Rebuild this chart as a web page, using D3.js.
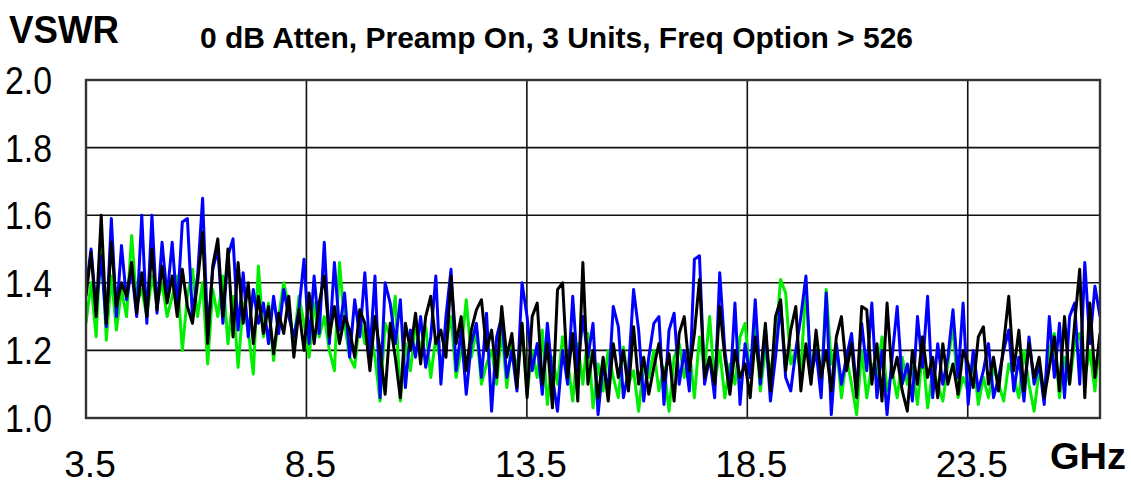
<!DOCTYPE html>
<html>
<head>
<meta charset="utf-8">
<script src="https://cdn.jsdelivr.net/npm/d3@7"></script>
<style>
  body { margin: 0; background: #fff; }
  text { font-family: "Liberation Sans", Arial, sans-serif; fill: #000; }
</style>
</head>
<body>
<div id="chart"></div>
<script>
var width = 1131;
var height = 485;

// sweep: 3.5 GHz start, one reading every 0.115 GHz
var freqStart = 3.5;
var freqStep = 0.115;

var xTicks = [3.5, 8.5, 13.5, 18.5, 23.5];
var yTicks = [1.0, 1.2, 1.4, 1.6, 1.8, 2.0];

var titleText = "0 dB Atten, Preamp On, 3 Units, Freq Option > 526";

var unitGreen = [
  1.28,1.40,1.24,1.55,1.23,1.42,1.26,1.38,1.30,1.54,1.34,1.38,1.30,1.42,1.34,1.40,1.30,1.36,1.42,1.20,
  1.36,1.44,1.30,1.40,1.16,1.38,1.30,1.42,1.22,1.36,1.15,1.34,1.26,1.13,1.45,1.24,1.34,1.17,1.30,1.40,
  1.33,1.22,1.36,1.28,1.18,1.34,1.24,1.30,1.20,1.14,1.46,1.28,1.18,1.15,1.30,1.22,1.26,1.18,1.05,1.28,
  1.24,1.36,1.05,1.22,1.14,1.28,1.20,1.27,1.12,1.24,1.16,1.22,1.30,1.12,1.20,1.35,1.18,1.26,1.10,1.16,
  1.20,1.10,1.26,1.09,1.22,1.14,1.28,1.07,1.20,1.12,1.26,1.04,1.18,1.10,1.24,1.17,1.05,1.22,1.10,1.25,
  1.03,1.16,1.08,1.20,1.12,1.06,1.21,1.10,1.14,1.02,1.16,1.12,1.20,1.08,1.15,1.02,1.18,1.22,1.12,1.20,
  1.06,1.24,1.14,1.30,1.10,1.20,1.06,1.16,1.10,1.24,1.28,1.12,1.28,1.08,1.20,1.14,1.22,1.41,1.37,1.16,
  1.20,1.14,1.39,1.12,1.24,1.08,1.38,1.16,1.22,1.06,1.18,1.10,1.01,1.20,1.06,1.16,1.12,1.24,1.08,1.14,
  1.06,1.18,1.10,1.15,1.04,1.20,1.03,1.14,1.10,1.05,1.16,1.28,1.06,1.12,1.08,1.18,1.04,1.12,1.06,1.15,
  1.10,1.05,1.16,1.12,1.06,1.20,1.10,1.02,1.14,1.08,1.20,1.25,1.06,1.18,1.10,1.22,1.25,1.12,1.20,1.08,1.24
];

var unitBlue = [
  1.38,1.50,1.32,1.48,1.27,1.59,1.30,1.51,1.35,1.44,1.30,1.60,1.28,1.60,1.31,1.52,1.36,1.52,1.32,1.58,
  1.59,1.30,1.42,1.65,1.25,1.44,1.50,1.28,1.48,1.53,1.26,1.43,1.24,1.38,1.28,1.34,1.22,1.36,1.25,1.38,
  1.30,1.24,1.32,1.47,1.22,1.42,1.25,1.52,1.22,1.46,1.26,1.37,1.18,1.35,1.24,1.43,1.19,1.42,1.06,1.40,
  1.34,1.22,1.35,1.09,1.26,1.18,1.30,1.15,1.24,1.42,1.10,1.30,1.44,1.14,1.26,1.07,1.22,1.28,1.12,1.31,
  1.02,1.24,1.30,1.12,1.20,1.08,1.40,1.30,1.14,1.22,1.07,1.28,1.12,1.02,1.20,1.10,1.36,1.14,1.30,1.18,
  1.28,1.01,1.16,1.08,1.33,1.27,1.06,1.14,1.38,1.26,1.05,1.18,1.28,1.30,1.04,1.26,1.31,1.10,1.20,1.08,
  1.47,1.48,1.10,1.18,1.06,1.43,1.20,1.08,1.34,1.04,1.22,1.12,1.35,1.10,1.26,1.05,1.18,1.34,1.12,1.08,
  1.20,1.30,1.42,1.12,1.20,1.06,1.37,1.01,1.22,1.10,1.18,1.25,1.08,1.28,1.14,1.34,1.06,1.20,1.01,1.18,
  1.33,1.10,1.16,1.05,1.30,1.15,1.36,1.06,1.22,1.10,1.18,1.32,1.12,1.34,1.04,1.20,1.08,1.14,1.22,1.06,
  1.12,1.20,1.26,1.08,1.18,1.05,1.24,1.10,1.16,1.04,1.30,1.12,1.28,1.06,1.30,1.34,1.10,1.46,1.22,1.39,1.30
];

var unitBlack = [
  1.36,1.49,1.30,1.60,1.28,1.52,1.33,1.40,1.36,1.46,1.31,1.43,1.30,1.50,1.32,1.45,1.34,1.42,1.30,1.44,
  1.33,1.28,1.40,1.55,1.22,1.45,1.53,1.30,1.50,1.24,1.46,1.28,1.40,1.22,1.36,1.25,1.33,1.19,1.31,1.25,
  1.36,1.18,1.32,1.20,1.37,1.22,1.34,1.42,1.24,1.33,1.22,1.30,1.26,1.18,1.32,1.28,1.14,1.30,1.20,1.07,
  1.28,1.18,1.06,1.28,1.20,1.31,1.16,1.30,1.36,1.22,1.26,1.18,1.42,1.22,1.30,1.14,1.26,1.32,1.35,1.20,
  1.26,1.12,1.33,1.18,1.25,1.09,1.28,1.06,1.30,1.34,1.10,1.22,1.03,1.38,1.40,1.12,1.25,1.05,1.46,1.10,
  1.20,1.06,1.18,1.05,1.22,1.12,1.20,1.08,1.27,1.10,1.18,1.07,1.15,1.22,1.11,1.19,1.05,1.25,1.30,1.14,
  1.25,1.41,1.12,1.18,1.10,1.33,1.18,1.07,1.20,1.12,1.16,1.06,1.24,1.12,1.28,1.08,1.30,1.35,1.14,1.26,
  1.33,1.08,1.22,1.10,1.26,1.12,1.20,1.08,1.24,1.30,1.14,1.22,1.06,1.33,1.32,1.10,1.22,1.05,1.34,1.12,
  1.18,1.08,1.02,1.20,1.10,1.24,1.12,1.18,1.06,1.22,1.10,1.16,1.07,1.20,1.16,1.09,1.24,1.27,1.10,1.18,
  1.08,1.22,1.36,1.14,1.26,1.08,1.22,1.12,1.18,1.06,1.15,1.24,1.08,1.30,1.10,1.28,1.44,1.06,1.34,1.12,1.25
];

var series = [
  { name: "green", color: "#00ee00", values: unitGreen },
  { name: "blue",  color: "#0000ff", values: unitBlue },
  { name: "black", color: "#000000", values: unitBlack }
];

var plot = { left: 86, right: 1100, top: 80, bottom: 418 };

var svg = d3.select("#chart")
    .append("svg")
    .attr("width", width)
    .attr("height", height)
    .style("background", "#fff");

var x = d3.scaleLinear().domain([3.5, 26.5]).range([plot.left, plot.right]);
var y = d3.scaleLinear().domain([1.0, 2.0]).range([plot.bottom, plot.top]);

svg.append("clipPath")
    .attr("id", "plotclip")
  .append("rect")
    .attr("x", plot.left)
    .attr("y", plot.top)
    .attr("width", plot.right - plot.left)
    .attr("height", plot.bottom - plot.top);

// grid
svg.append("g")
    .selectAll("line.h")
    .data(yTicks.filter(function(d) { return d > 1.0 && d < 2.0; }))
    .enter().append("line")
    .attr("x1", plot.left).attr("x2", plot.right)
    .attr("y1", function(d) { return y(d); })
    .attr("y2", function(d) { return y(d); })
    .attr("stroke", "#111").attr("stroke-width", 1.6);

svg.append("g")
    .selectAll("line.v")
    .data(xTicks.filter(function(d) { return d > 3.5; }))
    .enter().append("line")
    .attr("y1", plot.top).attr("y2", plot.bottom)
    .attr("x1", function(d) { return x(d); })
    .attr("x2", function(d) { return x(d); })
    .attr("stroke", "#111").attr("stroke-width", 1.6);

// traces
var line = d3.line()
    .x(function(d, i) { return x(freqStart + i * freqStep); })
    .y(function(d) { return y(d); });

svg.append("g")
    .attr("clip-path", "url(#plotclip)")
    .selectAll("path")
    .data(series)
    .enter().append("path")
    .attr("d", function(d) { return line(d.values); })
    .attr("fill", "none")
    .attr("stroke", function(d) { return d.color; })
    .attr("stroke-width", 3)
    .attr("stroke-linejoin", "round");

// frame
svg.append("rect")
    .attr("x", plot.left).attr("y", plot.top)
    .attr("width", plot.right - plot.left)
    .attr("height", plot.bottom - plot.top)
    .attr("fill", "none")
    .attr("stroke", "#333").attr("stroke-width", 2.4);

// tick labels
svg.append("g")
    .selectAll("text")
    .data(yTicks)
    .enter().append("text")
    .attr("x", 5)
    .attr("y", function(d) { return y(d) + 14; })
    .style("font-size", "38px")
    .attr("textLength", 47).attr("lengthAdjust", "spacingAndGlyphs")
    .text(function(d) { return d3.format(".1f")(d); });

svg.append("g")
    .selectAll("text")
    .data(xTicks)
    .enter().append("text")
    .attr("x", function(d) { return x(d) + 4; })
    .attr("y", 477)
    .attr("text-anchor", "middle")
    .style("font-size", "37px")
    .text(function(d) { return d3.format(".1f")(d); });

svg.append("text")
    .attr("x", 9).attr("y", 43)
    .style("font-size", "39px").style("font-weight", "bold")
    .attr("textLength", 110).attr("lengthAdjust", "spacingAndGlyphs")
    .text("VSWR");

svg.append("text")
    .attr("x", 200).attr("y", 48)
    .style("font-size", "30px").style("font-weight", "bold")
    .attr("textLength", 713).attr("lengthAdjust", "spacingAndGlyphs")
    .text(titleText);

svg.append("text")
    .attr("x", 1050).attr("y", 469)
    .style("font-size", "37px").style("font-weight", "bold")
    .attr("textLength", 76).attr("lengthAdjust", "spacingAndGlyphs")
    .text("GHz");
</script>
</body>
</html>
